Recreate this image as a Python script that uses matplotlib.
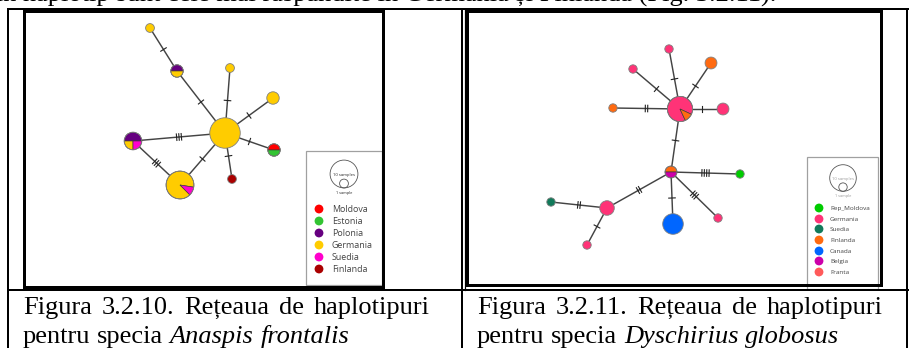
import matplotlib
matplotlib.use("Agg")
import matplotlib.pyplot as plt
from matplotlib.patches import Wedge, Circle, Rectangle
import numpy as np

# ---------------- Figura 3.2.10 : Anaspis frontalis ----------------
left_countries = ["Moldova", "Estonia", "Polonia", "Germania", "Suedia", "Finlanda"]
left_colors = ["#ff0000", "#33c433", "#660080", "#ffcc00", "#ff00cc", "#aa0000"]
left_hap_x = [225, 150, 177, 230, 273, 274, 232, 180, 133]
left_hap_y = [133, 28, 71, 68, 98, 150, 179, 185, 141]
# samples per haplotype, one column per country
left_hap_counts = [
    [0, 0, 0, 12, 0, 0],
    [0, 0, 0, 1, 0, 0],
    [0, 0, 1, 1, 0, 0],
    [0, 0, 0, 1, 0, 0],
    [0, 0, 0, 2, 0, 0],
    [1, 1, 0, 0, 0, 0],
    [0, 0, 0, 0, 0, 1],
    [0, 0, 0, 9, 1, 0],
    [0, 0, 2, 1, 1, 0],
]
left_pie_start = [90, 0, 0, 0, 0, 0, 0, -9, 0]
left_links = [(1, 2), (2, 0), (0, 3), (0, 4), (0, 5), (0, 6), (0, 7), (0, 8), (8, 7)]
left_mutations = [1, 1, 1, 1, 1, 1, 1, 3, 3]

# ---------------- Figura 3.2.11 : Dyschirius globosus ----------------
right_countries = ["Rep_Moldova", "Germania", "Suedia", "Finlanda", "Canada", "Belgia", "Franta"]
right_colors = ["#00cc00", "#ff3377", "#117a5a", "#ff6a10", "#0066ff", "#cc00aa", "#ff5a5a"]
right_hap_x = [680, 669, 633, 711, 613, 723, 671, 740, 607, 551, 587, 673, 718]
right_hap_y = [109, 49, 69, 63, 108, 109, 172, 174, 208, 202, 245, 224, 218]
right_hap_counts = [
    [0, 8, 0, 1, 0, 0, 0],
    [0, 1, 0, 0, 0, 0, 0],
    [0, 1, 0, 0, 0, 0, 0],
    [0, 0, 0, 2, 0, 0, 0],
    [0, 0, 0, 1, 0, 0, 0],
    [0, 2, 0, 0, 0, 0, 0],
    [0, 0, 0, 1, 0, 1, 0],
    [1, 0, 0, 0, 0, 0, 0],
    [0, 3, 0, 0, 0, 0, 0],
    [0, 0, 1, 0, 0, 0, 0],
    [0, 1, 0, 0, 0, 0, 0],
    [0, 0, 0, 0, 6, 0, 0],
    [0, 1, 0, 0, 0, 0, 0],
]
right_pie_start = [-25, 0, 0, 0, 0, 0, 0, 0, 0, 0, 0, 0, 0]
right_links = [(0, 1), (0, 2), (0, 3), (0, 4), (0, 5), (0, 6), (6, 7), (6, 8),
               (8, 9), (8, 10), (6, 11), (6, 12)]
right_mutations = [1, 1, 1, 2, 1, 1, 4, 2, 2, 1, 1, 3]

top_line = "un haplotip sunt cele mai răspândite în Germania și Finlanda (Fig. 3.2.11)."
left_caption = [[("Figura", "normal"), ("3.2.10.", "normal"), ("Rețeaua", "normal"),
                 ("de", "normal"), ("haplotipuri", "normal")],
                [("pentru", "normal"), ("specia", "normal"), ("Anaspis", "italic"),
                 ("frontalis", "italic")]]
right_caption = [[("Figura", "normal"), ("3.2.11.", "normal"), ("Rețeaua", "normal"),
                  ("de", "normal"), ("haplotipuri", "normal")],
                 [("pentru", "normal"), ("specia", "normal"), ("Dyschirius", "italic"),
                  ("globosus", "italic")]]

W, H = 909, 348
SERIF = "Liberation Serif"
SANS = "Open Sans"
PX = 0.72  # points per pixel at dpi 100

fig = plt.figure(figsize=(W / 100, H / 100), dpi=100)
ax = fig.add_axes([0, 0, 1, 1])
ax.set_xlim(0, W)
ax.set_ylim(H, 0)
ax.axis("off")
renderer = fig.canvas.get_renderer()


def draw_pie(x, y, r, counts, colors, start):
    total = sum(counts)
    parts = [(c, col) for c, col in zip(counts, colors) if c > 0]
    if len(parts) == 1:
        ax.add_patch(Circle((x, y), r, fc=parts[0][1], ec="none", zorder=3))
    else:
        a = start
        for c, col in parts:
            span = 360.0 * c / total
            # y axis is flipped: visual angle a maps to data angle -a
            ax.add_patch(Wedge((x, y), r, -(a + span), -a, fc=col, ec="#3a3a3a",
                               lw=0.45, zorder=3))
            a += span
    ax.add_patch(Circle((x, y), r, fill=False, ec="#808080", lw=0.6, zorder=4))


def draw_ticks(p, q, n, frac=0.5, spacing=2.4, length=6.5):
    p = np.asarray(p, float)
    q = np.asarray(q, float)
    d = q - p
    u = d / np.hypot(*d)
    nv = np.array([-u[1], u[0]])
    mid = p + frac * d
    for k in range(n):
        c = mid + (k - (n - 1) / 2) * spacing * u
        a = c - nv * length / 2
        b = c + nv * length / 2
        ax.plot([a[0], b[0]], [a[1], b[1]], color="#222222", lw=0.8, zorder=2)


def draw_network(xs, ys, counts, colors, starts, links, muts, scale):
    for (i, j), m in zip(links, muts):
        ax.plot([xs[i], xs[j]], [ys[i], ys[j]], color="#444444", lw=1.05, zorder=1)
        draw_ticks((xs[i], ys[i]), (xs[j], ys[j]), m)
    for x, y, c, s in zip(xs, ys, counts, starts):
        draw_pie(x, y, scale * np.sqrt(sum(c)), c, colors, s)


def draw_legend(box, ccx, ccy, scale, names, colors, mx, tx, ys, fs, scale_col):
    x0, y0, w, h = box
    ax.add_patch(Rectangle((x0, y0), w, h, fill=False, ec="#a0a0a0", lw=0.9, zorder=2))
    rb = scale * np.sqrt(10)
    rs = scale
    ax.add_patch(Circle((ccx, ccy), rb, fill=False, ec="#555555", lw=0.6, zorder=3))
    ax.add_patch(Circle((ccx, ccy + rb - rs), rs, fill=False, ec="#555555", lw=0.6, zorder=3))
    ax.text(ccx, ccy + 1, "10 samples", fontsize=3.0, family=SANS, color=scale_col,
            ha="center", va="center", zorder=4)
    ax.text(ccx, ccy + rb + 5, "1 sample", fontsize=2.8, family=SANS, color=scale_col,
            ha="center", va="center", zorder=4)
    for name, col, y in zip(names, colors, ys):
        ax.add_patch(Circle((mx, y), 4.4, fc=col, ec="none", zorder=3))
        ax.text(tx, y + 0.5, name, fontsize=fs, family=SANS, color="#444444",
                ha="left", va="center", zorder=4)


def text_width(s, style, size):
    t = ax.text(0, 0, s, fontsize=size, family=SERIF, style=style)
    w = t.get_window_extent(renderer).width
    t.remove()
    return w


def place_line(runs, x0, y, size, right=None):
    widths = [text_width(w, st, size) for w, st in runs]
    space = text_width("a a", "normal", size) - text_width("aa", "normal", size)
    if right is not None and len(runs) > 1:
        space = (right - x0 - sum(widths)) / (len(runs) - 1)
    x = x0
    for (w, st), wd in zip(runs, widths):
        ax.text(x, y, w, fontsize=size, family=SERIF, style=st, ha="left",
                va="baseline", color="black")
        x += wd + space


# networks
draw_network(left_hap_x, left_hap_y, left_hap_counts, left_colors, left_pie_start,
             left_links, left_mutations, 4.4)
draw_network(right_hap_x, right_hap_y, right_hap_counts, right_colors, right_pie_start,
             right_links, right_mutations, 4.2)

# legends
draw_legend((306, 151, 76, 134), 344, 174, 4.4, left_countries, left_colors,
            319, 332, [209, 221, 233, 245, 257, 269], 6.4, "#222222")
draw_legend((807, 157, 71, 132), 843, 178, 4.2, right_countries, right_colors,
            819, 830, [208, 219, 229, 240, 251, 261, 272], 4.6, "#999999")

# picture frames
for (x0, y0, x1, y1) in [(24, 11, 383, 287), (467, 11, 881, 285)]:
    ax.add_patch(Rectangle((x0, y0), x1 - x0, y1 - y0, fill=False, ec="black",
                           lw=3 * PX, zorder=6))

# table rules
rule = dict(color="black", lw=2 * PX, zorder=7, solid_capstyle="butt")
ax.plot([7, W], [9, 9], **rule)
ax.plot([7, W], [290, 290], **rule)
ax.plot([8, 8], [9, H], **rule)
ax.plot([907, 907], [9, H], **rule)
ax.plot([461.5, 461.5], [9, H], **rule)
ax.plot([464.5, 464.5], [9, 290], color="black", lw=1.2 * PX, zorder=7)

# running text above the table (only its lower part fits on the page)
ax.text(776, 2.0, top_line, fontsize=19, family=SERIF, ha="right", va="baseline")

# captions
place_line(left_caption[0], 23, 314, 19, right=430)
place_line(left_caption[1], 23, 343, 19)
place_line(right_caption[0], 477, 314, 19, right=883)
place_line(right_caption[1], 477, 343, 19)

fig.savefig("out.png", dpi=100)
